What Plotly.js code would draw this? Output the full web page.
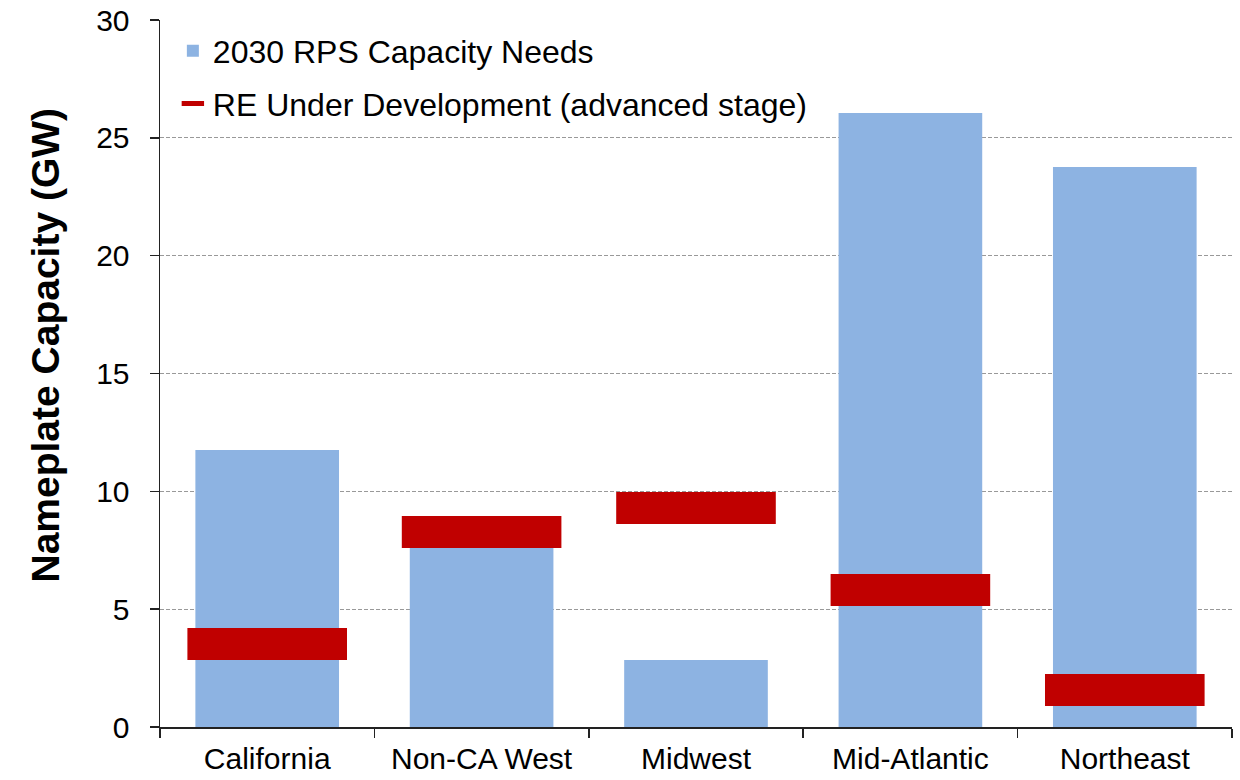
<!DOCTYPE html>
<html>
<head>
<meta charset="utf-8">
<script src="https://cdn.plot.ly/plotly-3.0.1.min.js"></script>
<style>html,body{margin:0;padding:0;background:#fff;}#chart{width:1240px;height:780px;}</style>
</head>
<body>
<div id="chart"></div>
<script>
const categories = ["California", "Non-CA West", "Midwest", "Mid-Atlantic", "Northeast"];
const rpsCapacityNeeds = [11.75, 7.7, 2.84, 26.05, 23.76];
const reUnderDevelopment = [3.52, 8.27, 9.29, 5.81, 1.57];
const yTicks = [0, 5, 10, 15, 20, 25, 30];
const yTitle = "Nameplate Capacity (GW)";

const traces = [
  {
    type: "bar",
    name: "2030 RPS Capacity Needs",
    x: categories,
    y: rpsCapacityNeeds,
    marker: {color: "#8DB3E2"},
    legendgroup: "a",
    hoverinfo: "x+y"
  },
  {
    type: "scatter",
    mode: "markers",
    name: "RE Under Development (advanced stage)",
    x: categories,
    y: reUnderDevelopment,
    marker: {symbol: "line-ew", size: 114, color: "#C00000", line: {color: "#C00000", width: 32}},
    legendgroup: "b",
    hoverinfo: "x+y"
  }
];

const layout = {
  width: 1240,
  height: 780,
  margin: {l: 160, r: 8, t: 20, b: 53},
  paper_bgcolor: "#ffffff",
  plot_bgcolor: "#ffffff",
  font: {family: "Liberation Sans, Arial, sans-serif", color: "#000", size: 31},
  bargap: 0.33,
  showlegend: true,
  legend: {
    x: 0.012, y: 0.995, xanchor: "left", yanchor: "top",
    bgcolor: "rgba(0,0,0,0)",
    font: {size: 32, color: "#000"},
    traceorder: "grouped",
    tracegroupgap: 8
  },
  xaxis: {
    type: "category",
    range: [-0.5, 4.5],
    showline: true, linecolor: "#222", linewidth: 1.5,
    ticks: "outside", tickson: "boundaries", ticklen: 9, tickwidth: 1.5, tickcolor: "#222",
    showgrid: false,
    tickfont: {size: 30},
    ticklabelstandoff: 4,
    fixedrange: true
  },
  yaxis: {
    range: [0, 30],
    tickvals: yTicks,
    ticktext: yTicks.map(String),
    showline: true, linecolor: "#222", linewidth: 1.5,
    ticks: "outside", ticklen: 9, tickwidth: 1.5, tickcolor: "#222",
    showgrid: true, gridcolor: "#999", griddash: "4px,2px", gridwidth: 1,
    zeroline: false,
    tickfont: {size: 30},
    ticklabelstandoff: 14,
    fixedrange: true
  },
  annotations: [{
    text: "<b>" + yTitle + "</b>",
    xref: "paper", yref: "paper",
    x: -0.107, y: 0.54,
    xanchor: "center", yanchor: "middle",
    textangle: -90,
    showarrow: false,
    font: {size: 39, family: "Liberation Sans, Arial, sans-serif", color: "#000"}
  }]
};

Plotly.newPlot("chart", traces, layout, {displayModeBar: false, staticPlot: true});
</script>
</body>
</html>
